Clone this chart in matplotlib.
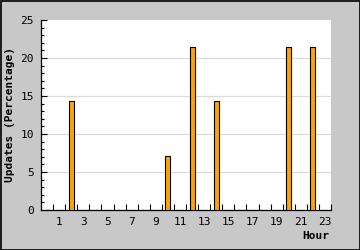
import matplotlib
matplotlib.use("Agg")
import matplotlib.pyplot as plt
from matplotlib.patches import Rectangle

# hourly update share (percent), hours 0..23
hours = list(range(24))
updates = [0, 0, 14.29, 0, 0, 0, 0, 0, 0, 0, 7.14, 0,
           21.43, 0, 14.29, 0, 0, 0, 0, 0, 21.43, 0, 21.43, 0]
xlabels = [str(h) for h in range(1, 24, 2)]

plt.rcParams['font.family'] = 'DejaVu Sans Mono'

fig = plt.figure(figsize=(3.6, 2.5), dpi=100)
fig.patch.set_facecolor('#c8c8c8')
ax = fig.add_axes([41/360, 40/250, 290/360, 190/250])
ax.set_facecolor('white')

ax.bar(hours, updates, width=0.42, color='#ffa500', edgecolor='black',
       linewidth=0.8, zorder=3)

ax.set_xlim(-0.5, 23.5)
ax.set_ylim(0, 25)

# grid
for g in [5, 10, 15, 20]:
    ax.axhline(g, color='#dcdcdc', linewidth=0.9, zorder=1)

for s in ['top', 'right']:
    ax.spines[s].set_visible(False)
for s in ['left', 'bottom']:
    ax.spines[s].set_linewidth(0.9)

ax.set_yticks([0, 5, 10, 15, 20, 25])
ax.set_yticks(range(26), minor=True)
ax.tick_params(axis='y', which='major', direction='in', length=4, width=0.8,
               labelsize=8, pad=5)
ax.tick_params(axis='y', which='minor', direction='in', length=2.5, width=0.8)

ax.set_xticks(range(1, 24, 2))
ax.set_xticklabels(xlabels)
ax.set_xticks([k - 0.5 for k in range(1, 25)], minor=True)
ax.tick_params(axis='x', which='major', length=0, labelsize=8, pad=5)
ax.tick_params(axis='x', which='minor', direction='in', length=4, width=0.8)

fig.text(10/360, 1 - 115/250, 'Updates (Percentage)', rotation=90,
         ha='center', va='center', fontsize=8, fontweight='bold')
fig.text(329/360, 1 - 236/250, 'Hour', ha='right', va='center',
         fontsize=8, fontweight='bold')

fig.add_artist(Rectangle((0.5/360, 0.5/250), 359/360, 249/250,
                         transform=fig.transFigure, fill=False,
                         edgecolor='black', linewidth=1.2))

fig.savefig('out.png', dpi=100, facecolor=fig.get_facecolor())
